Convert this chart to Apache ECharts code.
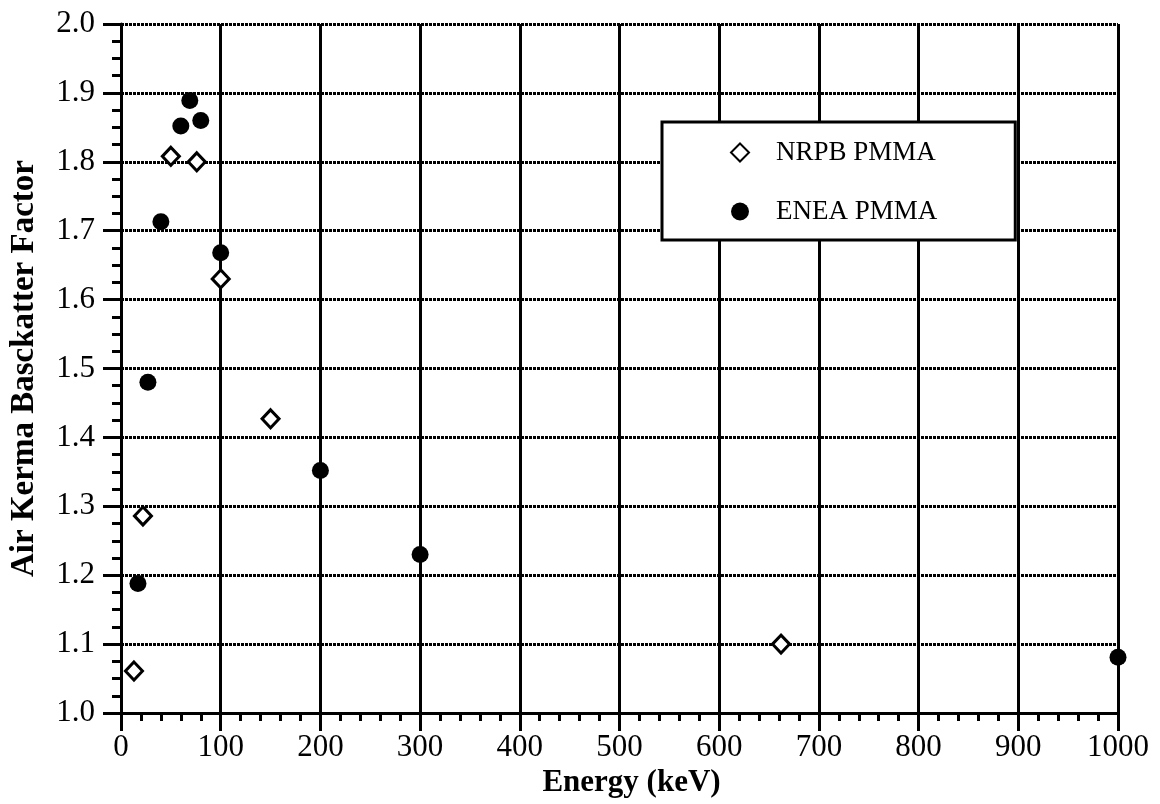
<!DOCTYPE html>
<html>
<head>
<meta charset="utf-8">
<title>Air Kerma Backscatter Factor</title>
<script src="https://cdn.jsdelivr.net/npm/echarts@6/dist/echarts.min.js"></script>
<style>
  html, body { margin: 0; padding: 0; background: #fff; }
  #chart { width: 1160px; height: 804px; }
</style>
</head>
<body>
<div id="chart"></div>
<script>
// Backscatter factors measured on PMMA phantoms, by photon energy (keV)
const nrpbEnergy = [13, 22, 50, 76, 100, 150, 662];
const nrpbFactor = [1.061, 1.286, 1.808, 1.800, 1.630, 1.427, 1.100];

const eneaEnergy = [17, 27, 40, 60, 69, 80, 100, 200, 300, 1000];
const eneaFactor = [1.188, 1.480, 1.713, 1.852, 1.889, 1.860, 1.668, 1.352, 1.230, 1.081];

const seriesNames = ['NRPB PMMA', 'ENEA PMMA'];
const xTitle = 'Energy (keV)';
const yTitle = 'Air Kerma Basckatter Factor';

const pairs = (xs, ys) => xs.map((x, i) => [x, ys[i]]);

const serif = '"Liberation Serif", "DejaVu Serif", serif';
const ink = '#000';
const dotted = [3, 1];

const chart = echarts.init(document.getElementById('chart'), null, { renderer: 'canvas' });

chart.setOption({
  backgroundColor: '#fff',
  animation: false,
  grid: { left: 116, right: 42, top: 24, bottom: 91, containLabel: false },
  legend: {
    orient: 'vertical',
    left: 662,
    top: 122,
    padding: [17, 78, 15, 68],
    itemGap: 32,
    itemWidth: 18,
    itemHeight: 18,
    backgroundColor: '#fff',
    borderColor: ink,
    borderWidth: 3,
    selectedMode: false,
    textStyle: {
      fontFamily: serif, fontSize: 27, color: ink, lineHeight: 26,
      padding: [0, 0, 0, 22]
    },
    data: seriesNames
  },
  xAxis: {
    type: 'value',
    min: 0, max: 1000, interval: 100,
    name: xTitle,
    nameLocation: 'middle',
    nameGap: 53,
    nameTextStyle: {
      fontFamily: serif, fontSize: 31, fontWeight: 'bold', color: ink,
      padding: [0, 0, 0, 24]
    },
    axisLine: { show: true, onZero: false, lineStyle: { color: ink, width: 3, type: dotted } },
    axisTick: { show: true, inside: false, length: 18, lineStyle: { color: ink, width: 3 } },
    minorTick: { show: true, splitNumber: 5, length: 8, lineStyle: { color: ink, width: 3 } },
    axisLabel: {
      margin: 19, fontFamily: serif, fontSize: 31, color: ink,
      formatter: v => String(v)
    },
    splitLine: { show: true, lineStyle: { color: ink, width: 3, type: 'solid' } }
  },
  yAxis: {
    type: 'value',
    min: 1.0, max: 2.0, interval: 0.1,
    name: yTitle,
    nameLocation: 'middle',
    nameGap: 80,
    nameTextStyle: { fontFamily: serif, fontSize: 33, fontWeight: 'bold', color: ink },
    axisLine: { show: true, onZero: false, lineStyle: { color: ink, width: 3 } },
    axisTick: { show: true, inside: false, length: 18, lineStyle: { color: ink, width: 3 } },
    minorTick: { show: true, splitNumber: 4, length: 9, lineStyle: { color: ink, width: 3 } },
    axisLabel: {
      margin: 26, fontFamily: serif, fontSize: 31, color: ink,
      formatter: v => v.toFixed(1)
    },
    splitLine: { show: true, lineStyle: { color: ink, width: 3, type: dotted } }
  },
  series: [
    {
      name: seriesNames[0],
      type: 'scatter',
      clip: false,
      symbol: 'diamond',
      symbolSize: [17, 18],
      itemStyle: { color: '#fff', borderColor: ink, borderWidth: 3, opacity: 1 },
      data: pairs(nrpbEnergy, nrpbFactor),
      z: 5
    },
    {
      name: seriesNames[1],
      type: 'scatter',
      clip: false,
      symbol: 'circle',
      symbolSize: 17,
      itemStyle: { color: '#000', opacity: 1 },
      data: pairs(eneaEnergy, eneaFactor),
      z: 6
    }
  ]
});
</script>
</body>
</html>
